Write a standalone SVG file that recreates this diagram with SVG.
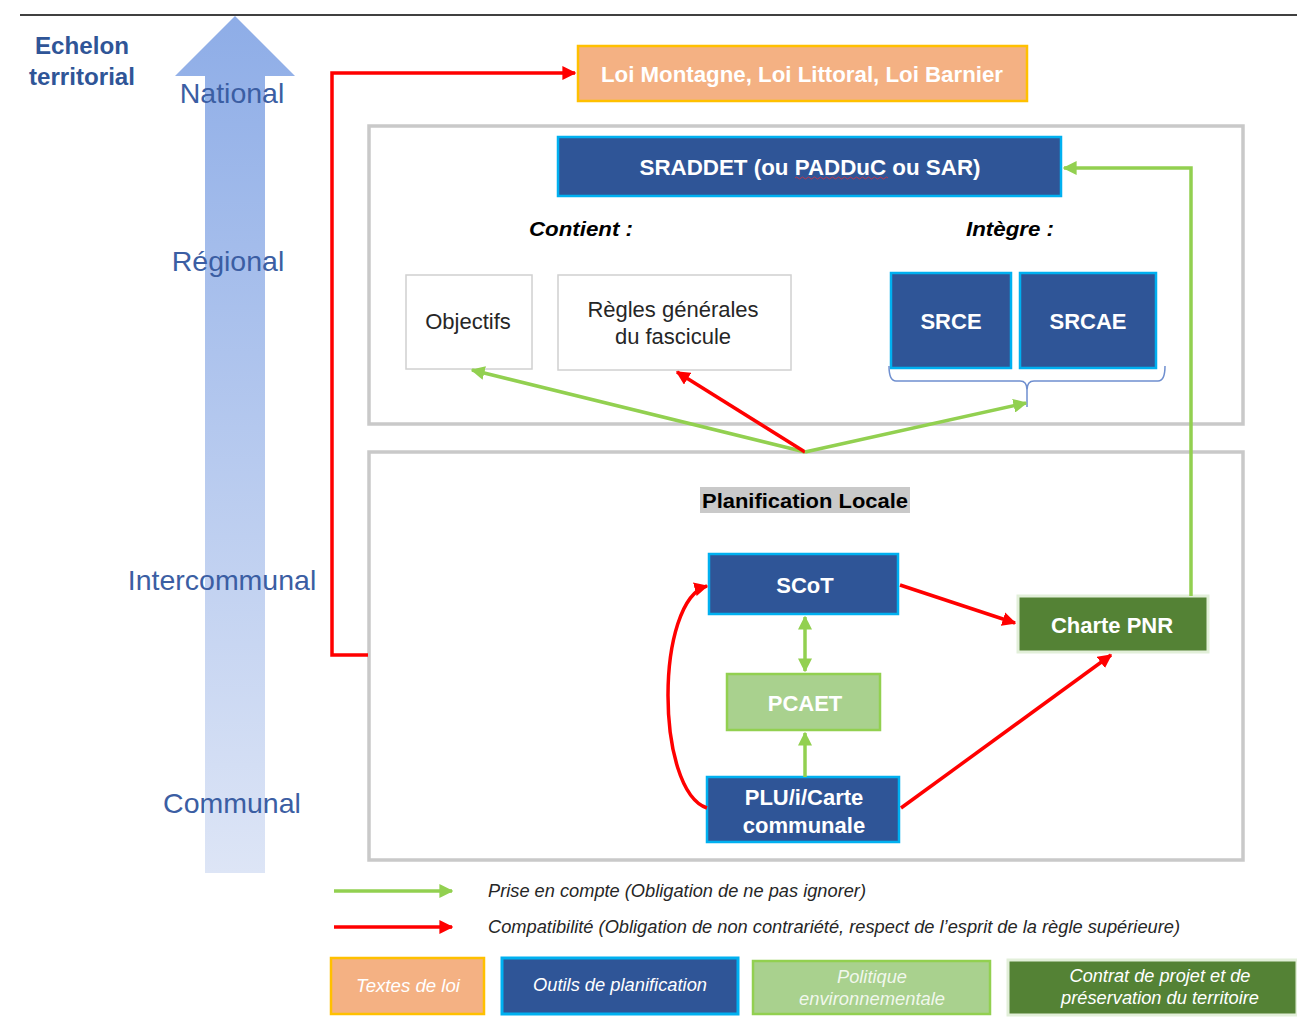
<svg xmlns="http://www.w3.org/2000/svg" width="1297" height="1024" viewBox="0 0 1297 1024">
<defs>
<linearGradient id="bigArrow" x1="0" y1="0" x2="0" y2="1">
<stop offset="0" stop-color="#8eade7"/>
<stop offset="1" stop-color="#dde5f6"/>
</linearGradient>
<marker id="ahR" viewBox="0 0 10 10" refX="9" refY="5" markerWidth="4" markerHeight="4" orient="auto-start-reverse" markerUnits="strokeWidth"><path d="M0,0 L10,5 L0,10 Z" fill="#ff0000"/></marker>
<marker id="ahG" viewBox="0 0 10 10" refX="9" refY="5" markerWidth="4" markerHeight="4" orient="auto-start-reverse" markerUnits="strokeWidth"><path d="M0,0 L10,5 L0,10 Z" fill="#92d050"/></marker>
</defs>
<style>
.lvl{font-family:"Liberation Sans",Arial,sans-serif;font-size:28.5px;fill:#3b5ea3;text-anchor:middle}
.box-blue{fill:#2f5597;stroke:#00b0f0;stroke-width:2.5}
.box-orange{fill:#f4b183;stroke:#ffc000;stroke-width:2.5}
.box-lgreen{fill:#a9d18e;stroke:#92d050;stroke-width:2.5}
.box-dgreen{fill:#548235;stroke:#e2efd9;stroke-width:3}
.box-white{fill:#ffffff;stroke:#d0d0d0;stroke-width:1.5}
.cont{fill:none;stroke:#c9c9c9;stroke-width:3.5}
.wt{font-family:"Liberation Sans",Arial,sans-serif;font-weight:bold;font-size:22px;fill:#ffffff;text-anchor:middle;dominant-baseline:central}
.bt{font-family:"Liberation Sans",Arial,sans-serif;font-size:22px;fill:#262626;text-anchor:middle;dominant-baseline:central}
.hd{font-family:"Liberation Sans",Arial,sans-serif;font-weight:bold;font-style:italic;font-size:21px;fill:#000;text-anchor:middle;dominant-baseline:central}
.lg{font-family:"Liberation Sans",Arial,sans-serif;font-style:italic;font-size:18px;fill:#262626;dominant-baseline:central}
.lgw{font-family:"Liberation Sans",Arial,sans-serif;font-style:italic;font-size:18px;fill:#ffffff;text-anchor:middle;dominant-baseline:central}
.red{fill:none;stroke:#ff0000;stroke-width:3.5}
.green{fill:none;stroke:#92d050;stroke-width:3.5}
</style>
<rect width="1297" height="1024" fill="#ffffff"/>
<line x1="20" y1="15" x2="1297" y2="15" stroke="#000" stroke-width="1.5"/>

<g id="echelon-axis">
<path d="M235,16 L295,76 L265,76 L265,873 L205,873 L205,76 L175,76 Z" fill="url(#bigArrow)"/>
<text x="82" y="46" font-family="'Liberation Sans',Arial,sans-serif" font-weight="bold" font-size="23" fill="#2f5597" text-anchor="middle" dominant-baseline="central" textLength="94" lengthAdjust="spacingAndGlyphs">Echelon</text>
<text x="82" y="77" font-family="'Liberation Sans',Arial,sans-serif" font-weight="bold" font-size="23" fill="#2f5597" text-anchor="middle" dominant-baseline="central" textLength="106" lengthAdjust="spacingAndGlyphs">territorial</text>
<text class="lvl" x="232" y="103">National</text>
<text class="lvl" x="228" y="271">Régional</text>
<text class="lvl" x="222" y="590">Intercommunal</text>
<text class="lvl" x="232" y="813">Communal</text>
</g>

<g id="container-regional"><rect class="cont" x="369" y="126" width="874" height="298"/></g>
<g id="container-local"><rect class="cont" x="369" y="452" width="874" height="408"/></g>

<g id="node-lois">
<rect class="box-orange" x="578" y="46" width="449" height="55"/>
<text class="wt" x="802" y="74" textLength="402" lengthAdjust="spacingAndGlyphs">Loi Montagne, Loi Littoral, Loi Barnier</text>
</g>

<g id="node-sraddet">
<rect class="box-blue" x="558" y="137" width="503" height="59"/>
<text class="wt" x="810" y="167" textLength="341" lengthAdjust="spacingAndGlyphs">SRADDET (ou PADDuC ou SAR)</text>
<path d="M795,178 q1.5,-2 3,0 t3,0 t3,0 t3,0 t3,0 t3,0 t3,0 t3,0 t3,0 t3,0 t3,0 t3,0 t3,0 t3,0 t3,0 t3,0 t3,0 t3,0 t3,0 t3,0 t3,0 t3,0 t3,0 t3,0 t3,0 t3,0 t3,0 t3,0 t3,0 t3,0 t3,0" fill="none" stroke="#e0303a" stroke-width="0.8"/>
</g>

<g id="label-contient"><text class="hd" x="581" y="228" textLength="104" lengthAdjust="spacingAndGlyphs">Contient :</text></g>
<g id="label-integre"><text class="hd" x="1010" y="228" textLength="88" lengthAdjust="spacingAndGlyphs">Intègre :</text></g>

<g id="node-objectifs">
<rect class="box-white" x="406" y="275" width="126" height="94"/>
<text class="bt" x="468" y="321">Objectifs</text>
</g>
<g id="node-regles">
<rect class="box-white" x="558" y="275" width="233" height="95"/>
<text class="bt" x="673" y="309">Règles générales</text>
<text class="bt" x="673" y="336">du fascicule</text>
</g>
<g id="node-srce">
<rect class="box-blue" x="891" y="273" width="120" height="95"/>
<text class="wt" x="951" y="321">SRCE</text>
</g>
<g id="node-srcae">
<rect class="box-blue" x="1020" y="273" width="136" height="95"/>
<text class="wt" x="1088" y="321">SRCAE</text>
</g>
<g id="brace">
<path d="M889,366 Q889,381 896,381 L1020,381 Q1027,381 1027,390 L1027,407 M1027,390 Q1027,381 1034,381 L1158,381 Q1165,381 1165,366" fill="none" stroke="#6f8fcf" stroke-width="1.5"/>
</g>

<g id="label-planif">
<rect x="700" y="487" width="210" height="26" fill="#c9c9c9"/>
<text x="805" y="500" font-family="'Liberation Sans',Arial,sans-serif" font-weight="bold" font-size="21" fill="#000" text-anchor="middle" dominant-baseline="central" textLength="206" lengthAdjust="spacingAndGlyphs">Planification Locale</text>
</g>

<g id="node-scot">
<rect class="box-blue" x="709" y="554" width="189" height="60"/>
<text class="wt" x="805" y="585">SCoT</text>
</g>
<g id="node-pcaet">
<rect class="box-lgreen" x="727" y="674" width="153" height="56"/>
<text class="wt" x="805" y="703">PCAET</text>
</g>
<g id="node-plu">
<rect class="box-blue" x="707" y="777" width="192" height="65"/>
<text class="wt" x="804" y="797">PLU/i/Carte</text>
<text class="wt" x="804" y="825">communale</text>
</g>
<g id="node-charte">
<rect class="box-dgreen" x="1018" y="596" width="190" height="56"/>
<text class="wt" x="1112" y="625">Charte PNR</text>
</g>

<g id="connectors">
<path class="red" d="M368,655 L332,655 L332,73 L575,73" marker-end="url(#ahR)"/>
<path class="green" d="M805,452 L472,370" marker-end="url(#ahG)"/>
<path class="red" d="M805,452 L677,372" marker-end="url(#ahR)"/>
<path class="green" d="M805,452 L1026,403" marker-end="url(#ahG)"/>
<path class="green" d="M805,617 L805,671" marker-start="url(#ahG)" marker-end="url(#ahG)"/>
<path class="green" d="M805,777 L805,733" marker-end="url(#ahG)"/>
<path class="red" d="M707,808 C655,790 655,600 707,586" marker-end="url(#ahR)"/>
<path class="red" d="M900,585 L1015,623" marker-end="url(#ahR)"/>
<path class="red" d="M901,808 L1111,655" marker-end="url(#ahR)"/>
<path class="green" d="M1191,596 L1191,168 L1064,168" marker-end="url(#ahG)"/>
</g>

<g id="legend">
<path class="green" d="M334,891 L452,891" marker-end="url(#ahG)"/>
<path class="red" d="M334,927 L452,927" marker-end="url(#ahR)"/>
<text class="lg" x="488" y="891" textLength="378" lengthAdjust="spacingAndGlyphs">Prise en compte (Obligation de ne pas ignorer)</text>
<text class="lg" x="488" y="927" textLength="692" lengthAdjust="spacingAndGlyphs">Compatibilité (Obligation de non contrariété, respect de l’esprit de la règle supérieure)</text>
<rect class="box-orange" x="331" y="958" width="153" height="56"/>
<text class="lgw" x="408" y="986" textLength="104" lengthAdjust="spacingAndGlyphs">Textes de loi</text>
<rect class="box-blue" x="502" y="958" width="236" height="56" style="stroke-width:3"/>
<text class="lgw" x="620" y="985" textLength="174" lengthAdjust="spacingAndGlyphs">Outils de planification</text>
<rect class="box-lgreen" x="753" y="961" width="237" height="53"/>
<text class="lgw" x="872" y="977" textLength="70" lengthAdjust="spacingAndGlyphs" fill-opacity="0.85">Politique</text>
<text class="lgw" x="872" y="999" textLength="146" lengthAdjust="spacingAndGlyphs" fill-opacity="0.85">environnementale</text>
<rect class="box-dgreen" x="1008" y="960" width="289" height="55"/>
<text class="lgw" x="1160" y="976" textLength="181" lengthAdjust="spacingAndGlyphs">Contrat de projet et de</text>
<text class="lgw" x="1160" y="998" textLength="198" lengthAdjust="spacingAndGlyphs">préservation du territoire</text>
</g>
</svg>
